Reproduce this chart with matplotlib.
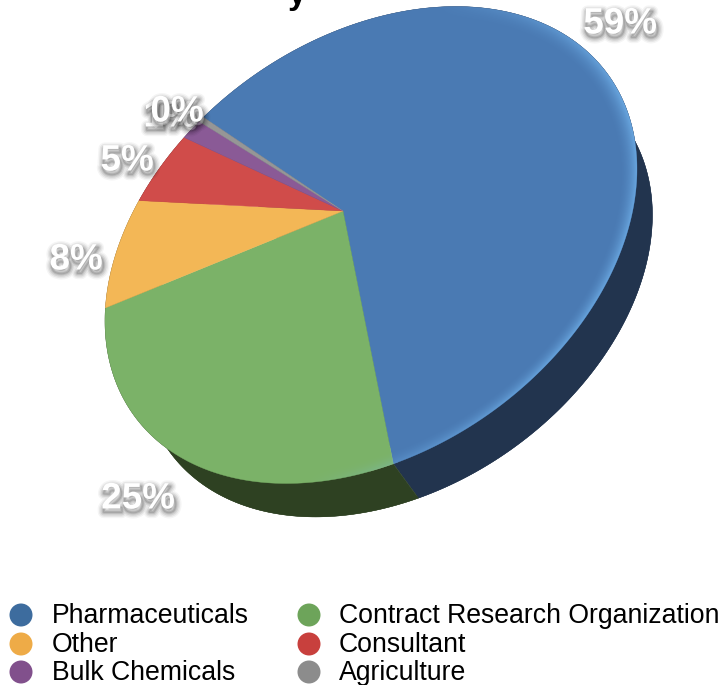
import numpy as np
import matplotlib
matplotlib.use("Agg")
import matplotlib.pyplot as plt
import matplotlib.patheffects as pe
from matplotlib.patches import Polygon, Ellipse

plt.rcParams['font.family'] = ['Liberation Sans', 'DejaVu Sans']

## DATA
categories = ["Pharmaceuticals", "Contract Research Organization", "Other",
              "Consultant", "Bulk Chemicals", "Agriculture"]
values = [58.6, 25.4, 8.3, 5.4, 1.5, 0.4]
pct_labels = ["59%", "25%", "8%", "5%", "1%", "0%"]

## estilo
top_colors = ["#4a7ab3", "#7bb268", "#f3b756", "#d04c4a", "#8a5a96", "#969696"]
side_colors = ["#22344e", "#2e4122", "#6b4f20", "#5a2020", "#3a2540", "#444444"]
legend_colors = ["#3d6c9e", "#6da45a", "#eeab47", "#c8403d", "#81508c", "#8c8c8c"]

## layout en pixeles de la imagen
label_pos = [(620, 24), (138, 499), (76, 260), (127, 161), (170, 117), (177, 112)]
legend_rows = [615, 644, 672]
legend_cols = [21, 309]

fig = plt.figure(figsize=(7.21, 6.85), dpi=100)
ax = fig.add_axes([0, 0, 1, 1])
ax.set_xlim(0, 721)
ax.set_ylim(685, 0)
ax.axis("off")

## geometria del disco inclinado
CX, CY = 371, 245
A = np.array([[266.0, 0.0], [-76.0, 226.0]])
apex = np.array([343.0, 211.0])
start_pt = np.array([203.0, 117.0])
DX, DY, K = 26, 43, 0.96


def to_img(u, dx=0, dy=0, k=1.0):
    return (A @ u * k).T + np.array([CX + dx, CY + dy])


def to_disc(pt):
    return np.linalg.solve(A, pt - np.array([CX, CY]))


p = to_disc(apex)
s = np.hypot(*p)
phi = np.arctan2(p[1], p[0])


def boost(u, s):
    ## mapa proyectivo del disco, lleva el centro al apice
    c, sn = np.cos(phi), np.sin(phi)
    x = c * u[0] + sn * u[1]
    y = -sn * u[0] + c * u[1]
    d = 1 + s * x
    x2 = (x + s) / d
    y2 = y * np.sqrt(1 - s * s) / d
    return np.array([c * x2 - sn * y2, sn * x2 + c * y2])


su = to_disc(start_pt)
su = boost(su / np.hypot(*su), -s)
start = np.arctan2(su[1], su[0])

fracs = np.array(values) / sum(values)
edges = start + 2 * np.pi * np.concatenate([[0], np.cumsum(fracs)])


def rim(t1, t2):
    t = np.linspace(t1, t2, max(int((t2 - t1) * 80), 4))
    return boost(np.array([np.cos(t), np.sin(t)]), s)


## pared lateral y disco inferior
for i in range(len(values)):
    u = rim(edges[i], edges[i + 1])
    ax.add_patch(Polygon(to_img(u, DX, DY, K), fc=side_colors[i], ec=side_colors[i], lw=0.3))
    quad = np.vstack([to_img(u), to_img(u, DX, DY, K)[::-1]])
    ax.add_patch(Polygon(quad, fc=side_colors[i], ec=side_colors[i], lw=0.3))

## cara superior
for i in range(len(values)):
    pts = np.vstack([apex, to_img(rim(edges[i], edges[i + 1]))])
    ax.add_patch(Polygon(pts, fc=top_colors[i], ec=top_colors[i], lw=0.3))

## brillo del borde
xx, yy = np.meshgrid(np.arange(0, 721), np.arange(0, 685))
uu = np.linalg.inv(A) @ np.array([(xx - CX).ravel(), (yy - CY).ravel()])
rr = np.hypot(uu[0], uu[1]).reshape(xx.shape)
ang = np.arctan2(uu[1], uu[0]).reshape(xx.shape)
edge = np.clip((rr - 0.93) / 0.07, 0, 1) ** 2 * np.clip(np.cos(ang - 0.25) * 1.2, 0, 1)
glow = np.zeros(xx.shape + (4,))
glow[..., :3] = [0.5, 0.78, 1.0]
glow[..., 3] = 0.6 * edge
clip = Polygon(to_img(rim(0, 2 * np.pi)), transform=ax.transData)
im = ax.imshow(glow, extent=(0, 721, 685, 0), aspect="auto", zorder=3, interpolation="bilinear")
im.set_clip_path(clip)
ax.set_xlim(0, 721)
ax.set_ylim(685, 0)

## etiquetas con sombra difusa
shadow = []
for w, a in [(9, 0.04), (7, 0.06), (5, 0.08), (3, 0.10), (1.5, 0.12)]:
    shadow.append(pe.Stroke(linewidth=w, foreground="black", alpha=a, offset=(1, -2.5)))
shadow.append(pe.Normal())
for txt, (x, y) in zip(pct_labels, label_pos):
    ax.text(x, y, txt, color="white", fontsize=26.5, ha="center", va="center",
            fontweight="bold", path_effects=shadow, zorder=5)

## titulo cortado arriba
ax.text(297, 4, "y", color="black", fontsize=24, fontweight="bold", ha="center",
        va="baseline", zorder=5)

## leyenda
for i, name in enumerate(categories):
    col = legend_cols[i % 2]
    row = legend_rows[i // 2]
    ax.add_patch(Ellipse((col, row), 23, 23, fc=legend_colors[i], ec="none"))
    ax.text(col + 31 if i % 2 == 0 else col + 30, row + 1, name, color="black", fontsize=19.2,
            ha="left", va="center")

fig.savefig("out.png", dpi=100)
